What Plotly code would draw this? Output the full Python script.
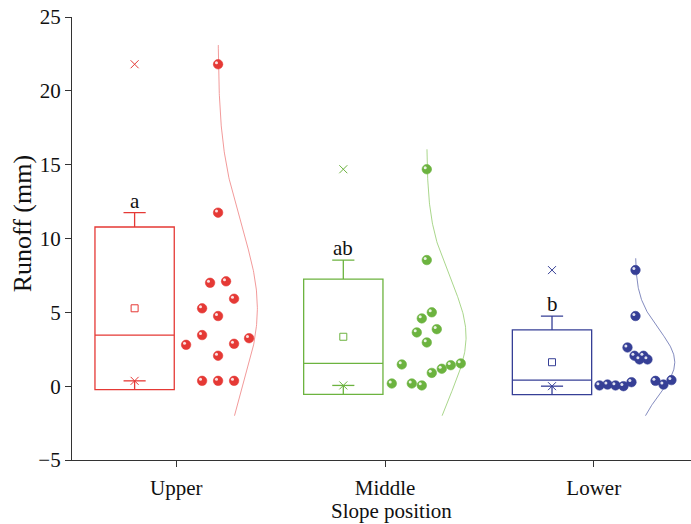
import numpy as np
import plotly.graph_objects as go

# ---------------- data ----------------
categories = ["Upper", "Middle", "Lower"]
upper = [21.8, 11.75, 7.0, 7.1, 5.92, 5.27, 4.75, 3.46, 2.8, 3.25, 2.87, 2.06, 0.36, 0.36, 0.36]
middle = [14.69, 8.54, 5.0, 4.59, 3.86, 3.64, 2.96, 1.47, 1.54, 1.42, 1.18, 0.9, 0.18, 0.18, 0.05]
lower = [7.86, 4.75, 2.62, 2.06, 2.06, 1.81, 1.81, 0.05, 0.11, 0.05, 0.0, 0.27, 0.36, 0.11, 0.41]
letters = ["a", "ab", "b"]
y_ticks = [-5, 0, 5, 10, 15, 20, 25]

# ---------------- layout helpers (positions / styles) ----------------
PX_X = 208.8   # px per category unit
PX_Y = 14.75   # px per mm
jitter_px = [
    [0, 0, -8, 8, 16, -16, 0, -16, -32, 31, 16, 0, -16, 0, 16],
    [0, 0, 5, -5, 10, -10, 0, -25, 34, 24, 15, 5, -35, -15, -5],
    [0, 0, -8, -1, 8, 4, 12, -36, -28, -20, -12, -4, 20, 28, 36],
]
colors = ["#E53935", "#6CB33F", "#363F96"]
curve_colors = ["rgba(238,120,120,0.75)", "rgba(140,200,100,0.75)", "rgba(90,100,170,0.75)"]
curve_pad = [1.3, 1.35, 0.8]
groups = [upper, middle, lower]
FONT = "Liberation Serif"
CAP = 0.053

fig = go.Figure()

for i, (vals, cat) in enumerate(zip(groups, categories)):
    v = np.array(vals, dtype=float)
    pos = i + 1
    bc = pos - 0.2
    dc = pos + 0.2
    col = colors[i]
    mean = v.mean()
    sd = v.std(ddof=1)
    s = np.sort(v)
    top_whisk = s[-2]
    vmin = s[0]
    vmax = s[-1]
    med = np.median(v)
    q1 = mean - sd
    q3 = mean + sd

    fig.add_trace(go.Box(
        x=[bc], q1=[q1], median=[med], q3=[q3],
        lowerfence=[q1], upperfence=[top_whisk],
        width=0.38, whiskerwidth=0.28,
        line=dict(color=col, width=1.3), fillcolor="rgba(0,0,0,0)",
        boxpoints=False, showlegend=False, hoverinfo="skip",
    ))
    # lower cap at minimum + stem
    fig.add_trace(go.Scatter(x=[bc - CAP, bc + CAP, None, bc, bc], y=[vmin, vmin, None, vmin, q1],
                             mode="lines", showlegend=False, hoverinfo="skip",
                             line=dict(color=col, width=1.3)))
    # mean square
    fig.add_trace(go.Scatter(x=[bc], y=[mean], mode="markers", showlegend=False,
                             marker=dict(symbol="square-open", size=7, color=col, line=dict(width=1, color=col))))
    # max cross and min cross
    fig.add_trace(go.Scatter(x=[bc, bc], y=[vmax, vmin], mode="markers", showlegend=False,
                             marker=dict(symbol="x-thin-open", size=8, color=col, line=dict(width=1, color=col))))

    # normal distribution curve
    yy = np.linspace(-2, vmax + curve_pad[i], 200)
    xx = dc + (39.3 / PX_X) * np.exp(-(yy - mean) ** 2 / (2 * sd ** 2))
    fig.add_trace(go.Scatter(x=xx, y=yy, mode="lines", showlegend=False, hoverinfo="skip",
                             line=dict(color=curve_colors[i], width=1)))

    # data points (spheres)
    jx = dc + np.array(jitter_px[i]) / PX_X
    fig.add_trace(go.Scatter(x=jx, y=v, mode="markers", showlegend=False,
                             marker=dict(size=9.5, color=col,
                                         line=dict(width=0.6, color=col))))
    fig.add_trace(go.Scatter(x=jx - 1.6 / PX_X, y=v + 1.6 / PX_Y, mode="markers", showlegend=False,
                             hoverinfo="skip",
                             marker=dict(size=3, color="rgba(255,255,255,0.85)", line=dict(width=0))))

    # significance letter
    fig.add_annotation(x=bc, y=top_whisk, text=letters[i], showarrow=False, yanchor="bottom",
                       yshift=-2, font=dict(family=FONT, size=21, color="#111"))

fig.add_annotation(xref="paper", yref="paper", x=-0.08, y=0.533, text="Runoff (mm)", textangle=-90,
                   xanchor="center", yanchor="middle",
                   showarrow=False, font=dict(family=FONT, size=26, color="#111"))
fig.add_annotation(xref="x", yref="paper", x=2.03, y=-0.116, text="Slope position", yanchor="middle",
                   showarrow=False, font=dict(family=FONT, size=21, color="#111"))

fig.update_layout(
    width=691, height=524,
    margin=dict(l=72, r=0, t=17, b=64),
    paper_bgcolor="white", plot_bgcolor="white",
    font=dict(family=FONT, size=21, color="#111"),
    showlegend=False,
    xaxis=dict(range=[0.5, 3.466], tickvals=[1, 2, 3], ticktext=categories,
               showline=True, linecolor="#333", linewidth=1.3, ticks="outside", ticklen=6,
               tickcolor="#333", tickwidth=1.3, showgrid=False, zeroline=False,
               ticklabelstandoff=3, tickfont=dict(family=FONT, size=21, color="#111")),
    yaxis=dict(range=[-5, 25], tickvals=y_ticks,
               showline=True, linecolor="#333", linewidth=1.3, ticks="outside", ticklen=6,
               tickcolor="#333", tickwidth=1.3, showgrid=False, zeroline=False,
               tickfont=dict(family=FONT, size=21, color="#111")),
)

fig.write_html("out.html")
